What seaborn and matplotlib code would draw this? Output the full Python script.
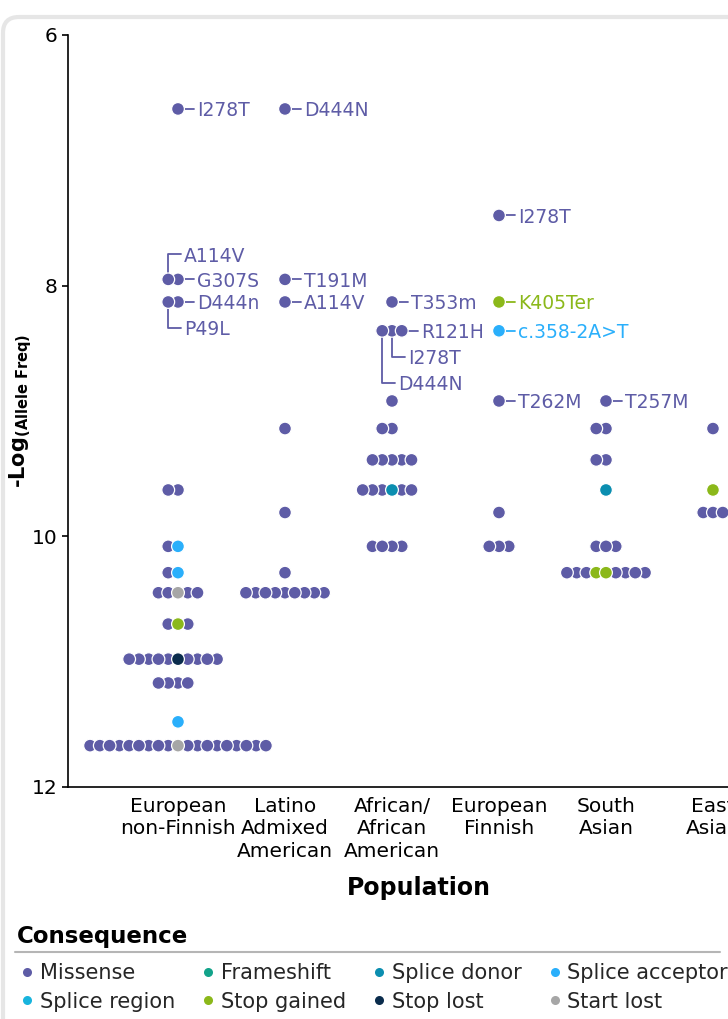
import numpy as np
import pandas as pd
import matplotlib
matplotlib.use("Agg")
import matplotlib.pyplot as plt
from matplotlib.lines import Line2D
from matplotlib.patches import FancyBboxPatch
from matplotlib.transforms import IdentityTransform
import seaborn as sns
from seaborn.categorical import Beeswarm

populations = ["European non-Finnish", "Latino Admixed American", "African/African American",
               "European Finnish", "South Asian", "East Asian"]
pop_ticklabels = ["European\nnon-Finnish", "Latino\nAdmixed\nAmerican", "African/\nAfrican\nAmerican",
                  "European\nFinnish", "South\nAsian", "East\nAsian"]

consequences = ["Missense", "Frameshift", "Splice donor", "Splice acceptor",
                "Splice region", "Stop gained", "Stop lost", "Start lost"]
cons_colors = ["#5e5ca6", "#12a38a", "#0b8eb0", "#2aaffb",
               "#18b4dd", "#8bb81a", "#0a2c4c", "#a6a6a6"]

# labelled variants, one point each
lab_pop = (["European non-Finnish"] * 5 + ["Latino Admixed American"] * 3
           + ["African/African American"] * 4 + ["European Finnish"] * 4 + ["South Asian"])
lab_value = [6.59, 7.95, 7.95, 8.13, 8.13,
             6.59, 7.95, 8.13,
             8.13, 8.36, 8.36, 8.36,
             7.44, 8.13, 8.36, 8.92,
             8.92]
lab_cons = ["Missense"] * 13 + ["Stop gained", "Splice acceptor", "Missense", "Missense"]
lab_text = ["I278T", "G307S", "A114V", "D444n", "P49L",
            "D444N", "T191M", "A114V",
            "T353m", "R121H", "I278T", "D444N",
            "I278T", "K405Ter", "c.358-2A>T", "T262M",
            "T257M"]

# unlabelled variants: population, -log freq, consequence, how many
grp_pop = (["European non-Finnish"] * 15 + ["Latino Admixed American"] * 4
           + ["African/African American"] * 6 + ["European Finnish"] * 2
           + ["South Asian"] * 6 + ["East Asian"] * 3)
grp_value = [9.63, 10.08, 10.08, 10.29, 10.29, 10.45, 10.45, 10.70, 10.70, 10.98, 10.98, 11.17, 11.48, 11.67, 11.67,
             9.14, 9.81, 10.29, 10.45,
             8.92, 9.14, 9.39, 9.63, 9.63, 10.08,
             9.81, 10.08,
             9.14, 9.39, 9.63, 10.08, 10.29, 10.29,
             9.14, 9.63, 9.81]
grp_cons = ["Missense", "Missense", "Splice acceptor", "Missense", "Splice acceptor", "Missense", "Start lost",
            "Missense", "Stop gained", "Missense", "Stop lost", "Missense", "Splice acceptor", "Missense", "Start lost",
            "Missense", "Missense", "Missense", "Missense",
            "Missense", "Missense", "Missense", "Missense", "Splice donor", "Missense",
            "Missense", "Missense",
            "Missense", "Missense", "Splice donor", "Missense", "Missense", "Stop gained",
            "Missense", "Stop gained", "Missense"]
grp_count = [2, 1, 1, 1, 1, 4, 1, 2, 1, 9, 1, 4, 1, 18, 1,
             1, 1, 1, 9,
             1, 2, 5, 5, 1, 4,
             1, 3,
             2, 2, 1, 3, 7, 2,
             1, 1, 3]

palette = dict(zip(consequences, cons_colors))

points = pd.DataFrame({
    "population": lab_pop + list(np.repeat(grp_pop, grp_count)),
    "value": lab_value + list(np.repeat(grp_value, grp_count)),
    "consequence": lab_cons + list(np.repeat(grp_cons, grp_count)),
    "label": lab_text + [""] * sum(grp_count),
})
# tiny nudge so non-missense points are placed first (centre) of their row
points["plot_value"] = points["value"] + 1e-6 * (points["consequence"] != "Missense")

sns.set_style("white")
fig = plt.figure(figsize=(7.28, 10.19), dpi=100)
ax = fig.add_axes([68 / 728, 232 / 1019, 702 / 728, 752 / 1019])

# let the wide rows spread instead of piling up at the band edges
Beeswarm.add_gutters = lambda self, pts, *args, **kwargs: pts

sns.swarmplot(data=points, x="population", y="plot_value", hue="consequence",
              order=populations, hue_order=consequences, palette=palette,
              size=5.8, linewidth=0.9, edgecolor="white", legend=False, ax=ax)

ax.set_xlim(-1.028, 5.533)
ax.set_ylim(12, 6)
ax.set_yticks([6, 8, 10, 12])
ax.set_xticks(range(len(populations)), pop_ticklabels)
for t in ax.get_xticklabels():
    t.set_linespacing(1.25)
ax.tick_params(axis="x", length=0, pad=7, labelsize=14.5, labelcolor="black")
ax.tick_params(axis="y", length=4.3, width=1.2, pad=3.5, labelsize=14.5,
               color="black", labelcolor="black", left=True)
sns.despine(ax=ax)
for side in ["left", "bottom"]:
    ax.spines[side].set_color("black")
    ax.spines[side].set_linewidth(1.2)
ax.set_xlabel("Population", fontsize=17, fontweight="bold", color="black", labelpad=11)
ax.set_ylabel("$\\mathbf{\u2010Log_{(Allele\\ Freq)}}$", fontsize=15, color="black", labelpad=-2)

# lay out the swarm with small markers, then freeze it and grow the dots so they overlap
fig.canvas.draw()
colls = {}
for coll in ax.collections:
    if "draw" in coll.__dict__:
        del coll.draw
    coll.set_sizes([85])
    colls[int(round(coll.get_offsets()[:, 0].mean()))] = coll

# variant labels with leader lines
inv = ax.transData.inverted()
for i, pop in enumerate(populations):
    sub = points[points.population == pop]
    xy = np.asarray(colls[i].get_offsets())
    lab = sub[sub.label != ""]
    lab_vals = sorted(lab.value.unique())
    for v in lab_vals:
        in_row = np.where(np.isclose(sub.value.to_numpy(), v))[0]
        right_to_left = in_row[np.argsort(-xy[in_row, 0])]
        row_labels = lab[np.isclose(lab.value, v)]
        go_up = any(v < w <= v + 0.3 for w in lab_vals)
        for k, ((_, r), j) in enumerate(zip(row_labels.iterrows(), right_to_left)):
            px, py = ax.transData.transform(xy[j])
            color = palette[r.consequence]
            if k == 0:
                line = [(px + 5, py), (px + 16, py)]
                tx, ty = px + 19, py
            else:
                dy = 25 if go_up else -26 * k
                line = [(px, py), (px, py + dy), (px + 13, py + dy)]
                tx, ty = px + 16, py + dy
            lx, ly = inv.transform(line).T
            ax.plot(lx, ly, color=color, lw=1.3, zorder=0.5, clip_on=False)
            dx_, dy_ = inv.transform((tx, ty))
            ax.text(dx_, dy_, r.label, color=color, fontsize=13.5, ha="left",
                    va="center_baseline", zorder=3)

# legend below the chart
handles = [Line2D([], [], marker="o", linestyle="", markersize=6.5,
                  markerfacecolor=c, markeredgewidth=0) for c in cons_colors]
order = [0, 4, 1, 5, 2, 6, 3, 7]  # legend fills column by column
fig.legend([handles[k] for k in order], [consequences[k] for k in order], ncol=4,
           loc="upper left", bbox_to_anchor=(21 / 728, 1 - 963 / 1019), frameon=False,
           fontsize=15, handlelength=0.6, handletextpad=0.3, columnspacing=1.3,
           labelspacing=0.42, borderpad=0, borderaxespad=0)
fig.text(17 / 728, 1 - 936 / 1019, "Consequence", fontsize=16.5, fontweight="bold",
         va="center", color="black")
fig.add_artist(Line2D([15 / 728, 720 / 728], [1 - 952 / 1019] * 2, color="#b5b5b5", lw=1.5))

# card outline
card = FancyBboxPatch((3, -40), 800, 1019 - 17 + 40, boxstyle="round,pad=0,rounding_size=16",
                      transform=IdentityTransform(), facecolor="none", edgecolor="#e6e6e6",
                      lw=3, zorder=0)
fig.add_artist(card)

fig.savefig("out.png", dpi=100)
